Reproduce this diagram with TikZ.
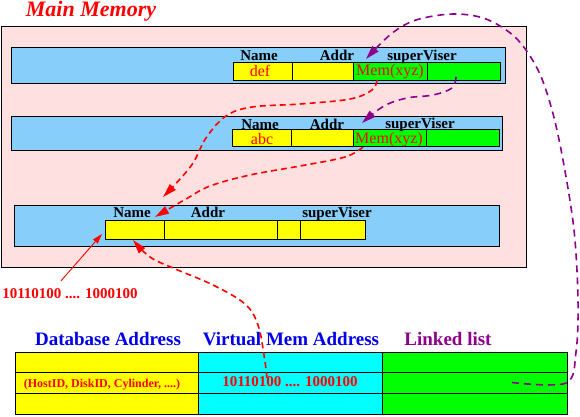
\documentclass[tikz,border=0pt]{standalone}
\usepackage{fontspec}
\setmainfont{Liberation Serif}
\usetikzlibrary{arrows.meta}
\definecolor{pinkbg}{RGB}{255,224,224}
\definecolor{skyb}{RGB}{135,206,250}
\definecolor{ylw}{RGB}{255,255,0}
\definecolor{grn}{RGB}{0,255,0}
\definecolor{cyn}{RGB}{0,255,255}
\definecolor{purp}{RGB}{140,0,140}
\definecolor{hblue}{RGB}{0,0,235}
\begin{document}
\begin{tikzpicture}[x=1pt,y=-1pt,
  box/.style={draw, line width=0.9pt, inner sep=0pt, outer sep=0pt, anchor=north west},
  lbl/.style={font=\fontsize{15}{15}\selectfont\bfseries, inner sep=0pt, anchor=base},
  val/.style={text=red, font=\fontsize{16}{16}\selectfont, inner sep=0pt, anchor=base},
  hdr/.style={font=\fontsize{19}{19}\selectfont\bfseries, inner sep=0pt, anchor=base, text=hblue},
  rdash/.style={red, line width=1.6pt, dash pattern=on 6pt off 4pt, -{Triangle[length=14pt,width=8pt]}},
  pdash/.style={purp, line width=1.6pt, dash pattern=on 7pt off 5pt, -{Triangle[length=14pt,width=8pt]}}]
\useasboundingbox (0,0) rectangle (580,416);
% main memory
\node[font=\fontsize{22}{22}\selectfont\bfseries\itshape, text=red, inner sep=0pt, anchor=base] (mmt) at (91,16) {Main Memory};
\node[box, fill=pinkbg, minimum width=525pt, minimum height=241pt] (mem) at (1,26) {};
% row 1
\node[box, fill=skyb, minimum width=494pt, minimum height=36pt] (r1) at (11,47) {};
\node[box, fill=ylw, minimum width=59pt, minimum height=18pt] (n1name) at (233,62) {};
\node[box, fill=ylw, minimum width=61pt, minimum height=18pt] (n1addr) at (292,62) {};
\node[box, fill=grn, minimum width=74pt, minimum height=18pt] (n1sup) at (353,62) {};
\node[box, fill=grn, minimum width=73pt, minimum height=18pt] (n1next) at (427,62) {};
\node[lbl] (l1a) at (259,60) {Name};
\node[lbl] (l1b) at (337,60) {Addr};
\node[lbl] (l1c) at (422,60) {superViser};
\node[val] (v1a) at (260,76) {def};
\node[val] (v1b) at (390,75) {Mem(xyz)};
% row 2
\node[box, fill=skyb, minimum width=491pt, minimum height=34pt] (r2) at (11,116) {};
\node[box, fill=ylw, minimum width=59pt, minimum height=17pt] (n2name) at (232,129) {};
\node[box, fill=ylw, minimum width=62pt, minimum height=17pt] (n2addr) at (291,129) {};
\node[box, fill=grn, minimum width=73pt, minimum height=17pt] (n2sup) at (353,129) {};
\node[box, fill=grn, minimum width=73pt, minimum height=17pt] (n2next) at (426,129) {};
\node[lbl] (l2a) at (260,129) {Name};
\node[lbl] (l2b) at (327,129) {Addr};
\node[lbl] (l2c) at (420,128) {superViser};
\node[val] (v2a) at (262,144) {abc};
\node[val] (v2b) at (389,143) {Mem(xyz)};
% row 3
\node[box, fill=skyb, minimum width=485pt, minimum height=41pt] (r3) at (14,205) {};
\node[box, fill=ylw, minimum width=59pt, minimum height=19pt] (n3name) at (105,220) {};
\node[box, fill=ylw, minimum width=113pt, minimum height=19pt] (n3addr) at (164,220) {};
\node[box, fill=ylw, minimum width=23pt, minimum height=19pt] (n3x) at (277,220) {};
\node[box, fill=ylw, minimum width=65pt, minimum height=19pt] (n3sup) at (300,220) {};
\node[lbl] (l3a) at (132,217) {Name};
\node[lbl] (l3b) at (208,217) {Addr};
\node[lbl] (l3c) at (337,217) {superViser};
% address label
\node[font=\fontsize{15}{15}\selectfont\bfseries, text=red, inner sep=0pt, anchor=base] (addr) at (70,298) {10110100 .... 1000100};
% bottom table
\node[hdr] (h1) at (108,345) {Database Address};
\node[hdr] (h2) at (291,345) {Virtual Mem Address};
\node[hdr, text=purp] (h3) at (448,345) {Linked list};
\node[box, fill=ylw, minimum width=183pt, minimum height=20pt] (db1) at (15,352) {};
\node[box, fill=ylw, minimum width=183pt, minimum height=21pt] (db2) at (15,372) {};
\node[box, fill=ylw, minimum width=183pt, minimum height=21pt] (db3) at (15,393) {};
\node[box, fill=cyn, minimum width=184pt, minimum height=20pt] (vm1) at (198,352) {};
\node[box, fill=cyn, minimum width=184pt, minimum height=21pt] (vm2) at (198,372) {};
\node[box, fill=cyn, minimum width=184pt, minimum height=21pt] (vm3) at (198,393) {};
\node[box, fill=grn, minimum width=185pt, minimum height=20pt] (ll1) at (382,352) {};
\node[box, fill=grn, minimum width=185pt, minimum height=21pt] (ll2) at (382,372) {};
\node[box, fill=grn, minimum width=185pt, minimum height=21pt] (ll3) at (382,393) {};
\node[font=\fontsize{12}{12}\selectfont\bfseries, text=red, inner sep=0pt, anchor=base] (dbt) at (102,387) {(HostID, DiskID, Cylinder, ....)};
\node[font=\fontsize{15}{15}\selectfont\bfseries, text=red, inner sep=0pt, anchor=base] (vmt) at (290,386) {10110100 .... 1000100};
% connectors
\draw[pdash] plot[smooth, tension=0.55] coordinates {([xshift=-55pt]ll2.east) (566,383) (576,352) (578,300) (574,230) (563,160) (552,110) (538,70) (516,38) (486,19) (453,14) (416,20) (391,34) ([xshift=13pt,yshift=3pt]n1sup.north west)};
\draw[pdash] plot[smooth, tension=0.6] coordinates {([xshift=29pt,yshift=3pt]n1next.south west) (452,88) (433,95) (407,98) (384,106) ([xshift=9pt,yshift=6pt]n2sup.north west)};
\draw[rdash] plot[smooth, tension=0.6] coordinates {([xshift=24pt]n1sup.south west) (372,90) (350,99) (300,104) (252,107) (226,116) (206,138) (191,166) ([xshift=-1pt,yshift=23pt]n3name.north east)};
\draw[rdash] plot[smooth, tension=0.6] coordinates {([xshift=10pt,yshift=-1pt]n2sup.south west) (345,157) (300,166) (250,175) (210,186) (186,199) ([xshift=-9pt,yshift=3pt]n3name.north east)};
\draw[rdash] plot[smooth, tension=0.6] coordinates {([xshift=69pt,yshift=-6pt]vm2.north west) (264,355) (258,325) (245,304) (213,285) (173,268) (150,257) ([xshift=28pt,yshift=-1pt]n3name.south west)};
\draw[red, line width=0.9pt, -{Triangle[length=10pt,width=6pt]}] ([xshift=-9pt,yshift=7pt]addr.north) -- ([xshift=-3pt,yshift=5pt]n3name.south west);
\end{tikzpicture}
\end{document}
